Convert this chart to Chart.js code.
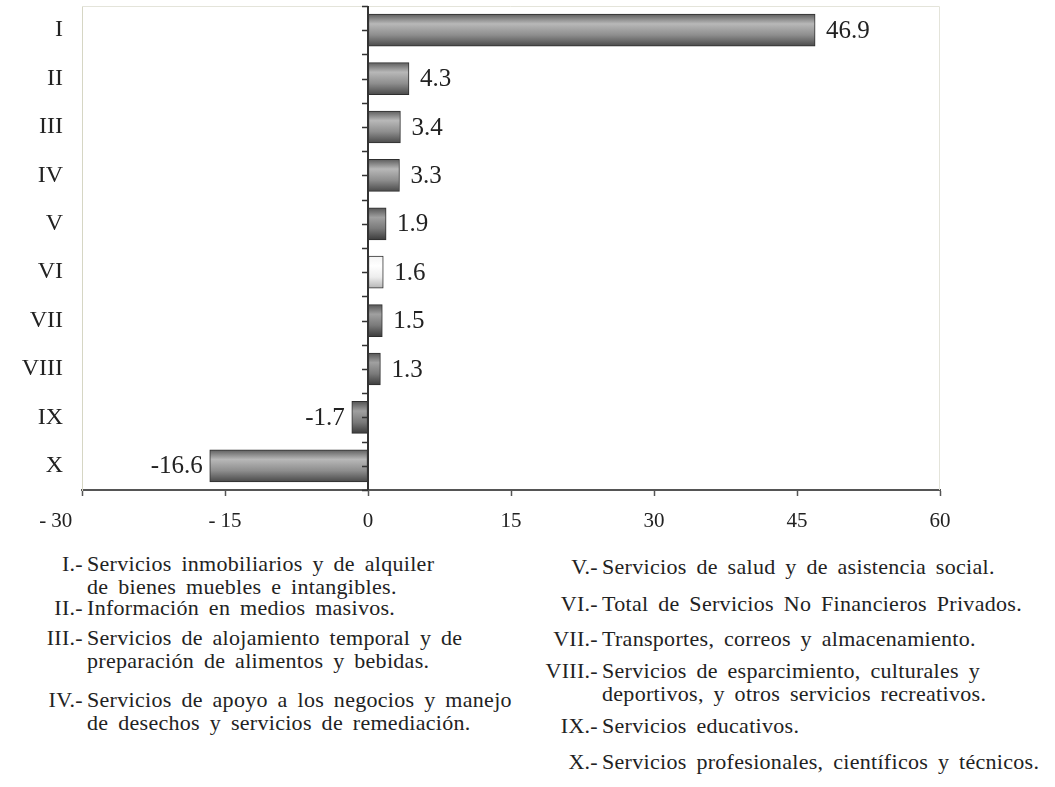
<!DOCTYPE html>
<html>
<head>
<meta charset="utf-8">
<script src="https://cdn.jsdelivr.net/npm/chart.js@4.4.1/dist/chart.umd.min.js"></script>
<style>
    body { margin: 0; background: #fff; }
    #wrap { position: relative; width: 1055px; height: 787px; }
    #chart { position: absolute; left: 0; top: 0; }
    .item { position: absolute; font-family: 'Liberation Serif', serif; font-size: 22px; color: #222; line-height: 23px; letter-spacing: 0.3px; word-spacing: 4px; white-space: nowrap; }
    .item .pre { position: absolute; text-align: right; width: 70px; word-spacing: 1px; }
    .item .txt { position: absolute; }
    .left .pre { left: 13px; }
    .left .txt { left: 87px; }
    .right .pre { left: 528px; }
    .right .txt { left: 602px; }
</style>
</head>
<body>
<div id="wrap">
    <canvas id="chart" width="1055" height="545"></canvas>

    <div class="item left" style="top:552px"><span class="pre">I.-</span><span class="txt">Servicios inmobiliarios y de alquiler<br>de bienes muebles e intangibles.</span></div>
    <div class="item left" style="top:596px"><span class="pre">II.-</span><span class="txt">Información en medios masivos.</span></div>
    <div class="item left" style="top:626px"><span class="pre">III.-</span><span class="txt">Servicios de alojamiento temporal y de<br>preparación de alimentos y bebidas.</span></div>
    <div class="item left" style="top:688px"><span class="pre">IV.-</span><span class="txt">Servicios de apoyo a los negocios y manejo<br>de desechos y servicios de remediación.</span></div>

    <div class="item right" style="top:555px"><span class="pre">V.-</span><span class="txt">Servicios de salud y de asistencia social.</span></div>
    <div class="item right" style="top:592px"><span class="pre">VI.-</span><span class="txt">Total de Servicios No Financieros Privados.</span></div>
    <div class="item right" style="top:627px"><span class="pre">VII.-</span><span class="txt">Transportes, correos y almacenamiento.</span></div>
    <div class="item right" style="top:659px"><span class="pre">VIII.-</span><span class="txt">Servicios de esparcimiento, culturales y<br>deportivos, y otros servicios recreativos.</span></div>
    <div class="item right" style="top:714px"><span class="pre">IX.-</span><span class="txt">Servicios educativos.</span></div>
    <div class="item right" style="top:750px"><span class="pre">X.-</span><span class="txt">Servicios profesionales, científicos y técnicos.</span></div>
</div>

<script>
const categories = ['I', 'II', 'III', 'IV', 'V', 'VI', 'VII', 'VIII', 'IX', 'X'];
const values = [46.9, 4.3, 3.4, 3.3, 1.9, 1.6, 1.5, 1.3, -1.7, -16.6];
const xTicks = [-30, -15, 0, 15, 30, 45, 60];
// shading of each bar: plain gray, textured (darker) or white (total)
const barKind = ['plain', 'plain', 'plain', 'plain', 'dots', 'white', 'dots', 'dots', 'dots', 'plain'];

const shades = {
    plain: ['#5e5e5e', '#b8b8b8', '#8e8e8e', '#4a4a4a'],
    dots:  ['#555555', '#a0a0a0', '#7a7a7a', '#3c3c3c'],
    white: ['#f4f4f4', '#ffffff', '#eeeeee', '#b5b5b5']
};
const BAR_H = 32;
const serif = 'Liberation Serif';
Chart.defaults.font.family = serif;

function barFill(c) {
    const chart = c.chart;
    const y = chart.scales.y ? chart.scales.y.getPixelForValue(c.dataIndex) : NaN;
    const s = shades[barKind[c.dataIndex]];
    if (!isFinite(y)) return s[2];
    const g = chart.ctx.createLinearGradient(0, y - BAR_H / 2, 0, y + BAR_H / 2);
    g.addColorStop(0, s[0]);
    g.addColorStop(0.3, s[1]);
    g.addColorStop(0.65, s[2]);
    g.addColorStop(1, s[3]);
    return g;
}

const framePlugin = {
    id: 'frame',
    beforeDatasetsDraw(chart) {
        const { ctx, chartArea: a } = chart;
        ctx.save();
        ctx.strokeStyle = '#e4e4da';
        ctx.lineWidth = 1;
        ctx.beginPath();
        ctx.moveTo(a.left, a.top + 0.5);
        ctx.lineTo(a.right - 0.5, a.top + 0.5);
        ctx.lineTo(a.right - 0.5, a.bottom);
        ctx.stroke();
        ctx.restore();
    },
    afterDatasetsDraw(chart) {
        // zero axis with small tick marks
        const { ctx, scales } = chart;
        const x0 = scales.x.getPixelForValue(0);
        ctx.save();
        ctx.strokeStyle = '#333';
        ctx.lineWidth = 2;
        ctx.beginPath();
        ctx.moveTo(x0, chart.chartArea.top);
        ctx.lineTo(x0, chart.chartArea.bottom);
        ctx.stroke();
        ctx.lineWidth = 1.5;
        ctx.beginPath();
        for (let i = -0.5; i <= categories.length - 0.5; i += 0.5) {
            const y = Math.round(scales.y.getPixelForValue(i)) + 0.5;
            ctx.moveTo(x0 - 6, y);
            ctx.lineTo(x0, y);
        }
        ctx.stroke();
        ctx.restore();
    }
};

const valueLabels = {
    id: 'valueLabels',
    afterDatasetsDraw(chart) {
        const { ctx } = chart;
        const meta = chart.getDatasetMeta(0);
        ctx.save();
        ctx.font = '25px "' + serif + '"';
        ctx.fillStyle = '#222';
        ctx.textBaseline = 'middle';
        meta.data.forEach((bar, i) => {
            const v = values[i];
            if (v >= 0) {
                ctx.textAlign = 'left';
                ctx.fillText(v.toFixed(1), bar.x + 11, bar.y + 1);
            } else {
                ctx.textAlign = 'right';
                ctx.fillText(v.toFixed(1), bar.x - 7, bar.y + 1);
            }
        });
        ctx.restore();
    }
};

new Chart(document.getElementById('chart'), {
    type: 'bar',
    data: {
        labels: categories,
        datasets: [{
            data: values,
            backgroundColor: barFill,
            borderColor: '#2e2e2e',
            borderWidth: 1,
            borderSkipped: false,
            barThickness: BAR_H
        }]
    },
    options: {
        indexAxis: 'y',
        responsive: false,
        animation: false,
        layout: { padding: { left: 0, right: 115, top: 6, bottom: 0 } },
        plugins: {
            legend: { display: false },
            tooltip: { enabled: false }
        },
        scales: {
            x: {
                min: -30,
                max: 60,
                afterBuildTicks: s => { s.ticks = xTicks.map(v => ({ value: v })); },
                afterFit: s => { s.height = 55; },
                grid: { drawOnChartArea: false, drawTicks: true, tickLength: 6, tickColor: '#555', tickWidth: 1.5 },
                border: { color: '#555', width: 2 },
                ticks: {
                    padding: 13,
                    color: '#222',
                    font: { family: serif, size: 21 },
                    // first label sits left of its tick in the original
                    callback: v => v === -30 ? '- 30' + ' '.repeat(10) : (v < 0 ? '- ' + Math.abs(v) : String(v))
                }
            },
            y: {
                afterFit: s => { s.width = 82; s.paddingTop = 0; s.paddingBottom = 0; },
                grid: { display: false, drawTicks: false },
                border: { color: '#d6d6c4', width: 1 },
                ticks: {
                    padding: 19,
                    color: '#222',
                    font: { family: serif, size: 24 }
                }
            }
        }
    },
    plugins: [framePlugin, valueLabels]
});
</script>
</body>
</html>
